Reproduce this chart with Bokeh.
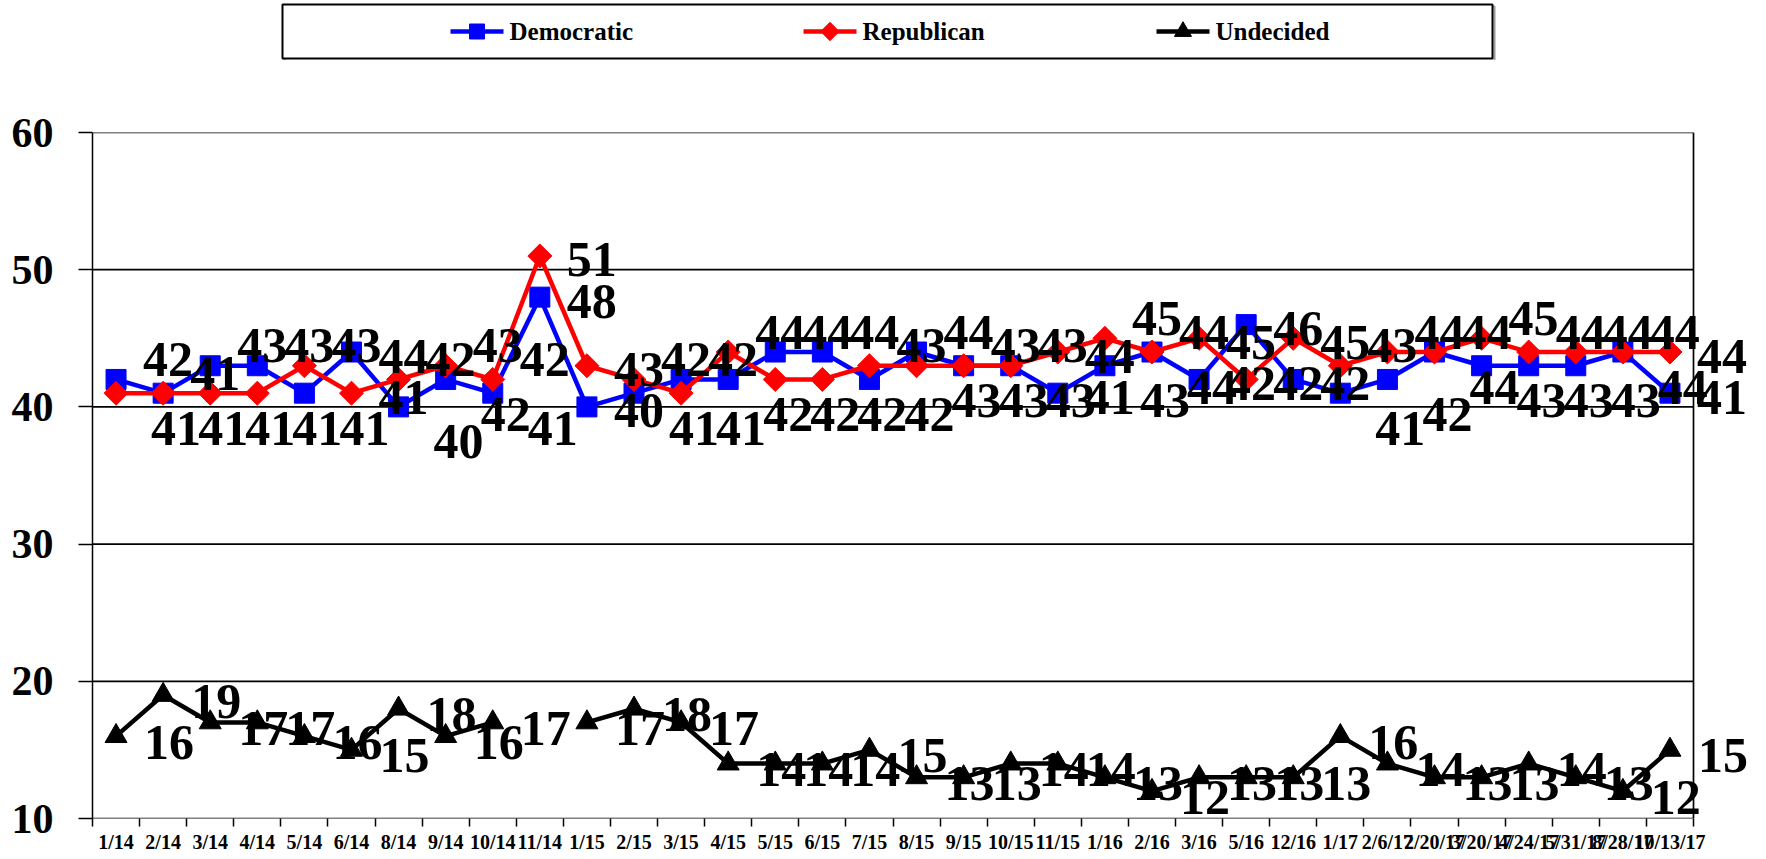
import math
from bokeh.plotting import figure
from bokeh.models import ColumnDataSource, LabelSet, FixedTicker, Range1d, CustomJSTickFormatter
from bokeh.layouts import column
from bokeh.embed import file_html
from bokeh.resources import INLINE
from bokeh.core.properties import value

# ---------------- data ----------------
dates = ["1/14", "2/14", "3/14", "4/14", "5/14", "6/14", "8/14", "9/14", "10/14", "11/14",
         "1/15", "2/15", "3/15", "4/15", "5/15", "6/15", "7/15", "8/15", "9/15", "10/15", "11/15",
         "1/16", "2/16", "3/16", "5/16", "12/16",
         "1/17", "2/6/17", "2/20/17", "3/20/17", "4/24/17", "5/31/17", "8/28/17", "10/13/17"]
democratic = [42, 41, 43, 43, 41, 44, 40, 42, 41, 48,
              40, 41, 42, 42, 44, 44, 42, 44, 43, 43, 41,
              43, 44, 42, 46, 42,
              41, 42, 44, 43, 43, 43, 44, 41]
republican = [41, 41, 41, 41, 43, 41, 42, 43, 42, 51,
              43, 42, 41, 44, 42, 42, 43, 43, 43, 43, 44,
              45, 44, 45, 42, 45,
              43, 44, 44, 45, 44, 44, 44, 44]
undecided = [16, 19, 17, 17, 16, 15, 18, 16, 17, None,
             17, 18, 17, 14, 14, 14, 15, 13, 13, 14, 14,
             13, 12, 13, 13, 13,
             16, 14, 13, 13, 14, 13, 12, 15]
series = ["Democratic", "Republican", "Undecided"]
y_ticks = [10, 20, 30, 40, 50, 60]

# ---------------- layout / styles ----------------
FONT = "Liberation Serif"
BLUE, RED, BLACK = "#0000FF", "#FF0000", "#000000"
N = len(dates)
xs = list(range(N))

W = 1766
LEG_H = 60
FRAME_L, FRAME_R_PLOT = 92, 1693          # plot-area left / right edge (px)
TOP_B, FRAME_H, BOT_B = 72, 686, 41
MAIN_H = TOP_B + FRAME_H + BOT_B

# the frame extends to the page edge so that the right-most labels are not clipped;
# the plot-area border is drawn at the last category boundary
px_per_cat = (FRAME_R_PLOT - FRAME_L) / N
x_end = -0.5 + (W - FRAME_L) / px_per_cat

p = figure(width=W, height=MAIN_H, output_backend="svg", toolbar_location=None,
           x_range=Range1d(-0.5, x_end), y_range=Range1d(y_ticks[0], y_ticks[-1]),
           min_border_left=FRAME_L, min_border_right=0, min_border_top=TOP_B,
           min_border_bottom=BOT_B)
p.background_fill_color = "white"
p.outline_line_color = None

# x axis: labels at category centres, ticks at category boundaries
p.xaxis.ticker = FixedTicker(ticks=xs, minor_ticks=[i - 0.5 for i in range(N + 1)])
p.xaxis.formatter = CustomJSTickFormatter(args=dict(labels=dates),
                                          code="const i = Math.round(tick); return (i >= 0 && i < labels.length) ? labels[i] : '';")
p.xaxis.major_tick_out = 0
p.xaxis.major_tick_in = 0
p.xaxis.minor_tick_out = 8
p.xaxis.minor_tick_in = 0
p.xaxis.minor_tick_line_color = BLACK
p.xaxis.minor_tick_line_width = 1.5
p.xaxis.axis_line_color = None
p.xaxis.major_label_text_font = FONT
p.xaxis.major_label_text_font_style = "bold"
p.xaxis.major_label_text_font_size = "20px"
p.xaxis.major_label_text_color = BLACK
p.xaxis.major_label_standoff = 4

p.yaxis.ticker = FixedTicker(ticks=y_ticks)
p.yaxis.major_tick_out = 14
p.yaxis.major_tick_in = 0
p.yaxis.minor_tick_line_color = None
p.yaxis.major_tick_line_color = BLACK
p.yaxis.major_tick_line_width = 1.5
p.yaxis.axis_line_color = BLACK
p.yaxis.axis_line_width = 1.5
p.yaxis.major_label_text_font = FONT
p.yaxis.major_label_text_font_style = "bold"
p.yaxis.major_label_text_font_size = "42px"
p.yaxis.major_label_text_color = BLACK
p.yaxis.major_label_standoff = 25

p.grid.visible = False
# horizontal gridlines (incl. top border and bottom axis) and right border
p.segment(x0=-0.5, x1=N - 0.5, y0=y_ticks, y1=y_ticks, line_color=BLACK, line_width=1.7)
p.segment(x0=[N - 0.5], x1=[N - 0.5], y0=[y_ticks[0]], y1=[y_ticks[-1]],
          line_color=BLACK, line_width=1.7)

und_vals = [float("nan") if v is None else v for v in undecided]
src = ColumnDataSource(dict(x=xs, dem=democratic, rep=republican, und=und_vals))

p.line("x", "dem", source=src, line_color=BLUE, line_width=4.5)
p.scatter("x", "dem", source=src, marker="square", size=20, fill_color=BLUE, line_color=BLUE)
p.line("x", "rep", source=src, line_color=RED, line_width=4.5)
p.scatter("x", "rep", source=src, marker="square", angle=math.pi / 4, size=17,
          fill_color=RED, line_color=RED)
p.line("x", "und", source=src, line_color=BLACK, line_width=4.5)
p.scatter("x", "und", source=src, marker="triangle", size=22, fill_color=BLACK, line_color=BLACK)

# data labels: right of the point; when the two party values are close,
# the higher one is pushed up and the lower one down (ties: Democratic up)
ABOVE = (27, 20)
BELOW = (35, -35)
RIGHT = (27, -4)

def party_offsets(own, other, wins_tie):
    out = []
    for a, b in zip(own, other):
        if abs(a - b) >= 3:
            out.append(RIGHT)
        elif a > b or (a == b and wins_tie):
            out.append(ABOVE)
        else:
            out.append(BELOW)
    return out

dem_off = party_offsets(democratic, republican, True)
rep_off = party_offsets(republican, democratic, False)

def add_labels(vals, offs):
    idx = [i for i, v in enumerate(vals) if v is not None]
    s = ColumnDataSource(dict(x=[xs[i] for i in idx], y=[vals[i] for i in idx],
                              t=[str(vals[i]) for i in idx],
                              xo=[offs[i][0] for i in idx], yo=[offs[i][1] for i in idx]))
    p.add_layout(LabelSet(x="x", y="y", text="t", source=s, x_offset="xo", y_offset="yo",
                          text_font=value(FONT), text_font_style="bold", text_font_size="50px",
                          text_color=BLACK, text_align="left", text_baseline="middle"))

add_labels(democratic, dem_off)
add_labels(republican, rep_off)
add_labels(undecided, [(28, -6)] * N)

# ---------------- legend strip (data coords == page px) ----------------
lg = figure(width=W, height=LEG_H, output_backend="svg", toolbar_location=None,
            x_range=Range1d(FRAME_L, W), y_range=Range1d(LEG_H, 0),
            x_axis_location=None, y_axis_location=None,
            min_border_left=FRAME_L, min_border_right=0, min_border_top=0, min_border_bottom=0)
lg.grid.visible = False
lg.outline_line_color = None
lg.background_fill_color = "white"

lg.quad(left=[284], right=[1494], top=[6], bottom=[61], fill_color=None,
        line_color="#9a9a9a", line_width=2)
lg.quad(left=[282], right=[1492], top=[4], bottom=[58], fill_color="white",
        line_color=BLACK, line_width=2)

colors = [BLUE, RED, BLACK]
x0, step, gw, yc = 450, 353, 53, 31
for k, name in enumerate(series):
    xl = x0 + k * step
    lg.line([xl, xl + gw], [yc, yc], line_color=colors[k], line_width=4.5)
    if k == 0:
        lg.scatter([xl + gw / 2], [yc], marker="square", size=15, color=colors[k])
    elif k == 1:
        lg.scatter([xl + gw / 2], [yc], marker="square", angle=math.pi / 4, size=13, color=colors[k])
    else:
        lg.scatter([xl + gw / 2], [yc], marker="triangle", size=17, color=colors[k])
    lg.text([xl + gw + 6], [yc], text=[name], text_font=value(FONT), text_font_style="bold",
            text_font_size="25px", text_color=BLACK, text_align="left", text_baseline="middle")

layout = column(lg, p)
open("out.html", "w").write(file_html(layout, INLINE))
